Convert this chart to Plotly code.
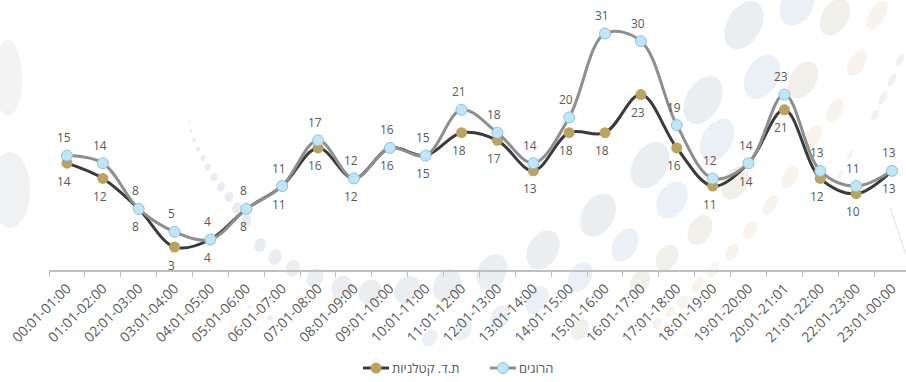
import math
import plotly.graph_objects as go

# Hourly time slots
hours = [
    "00:01-01:00", "01:01-02:00", "02:01-03:00", "03:01-04:00", "04:01-05:00",
    "05:01-06:00", "06:01-07:00", "07:01-08:00", "08:01-09:00", "09:01-10:00",
    "10:01-11:00", "11:01-12:00", "12:01-13:00", "13:01-14:00", "14:01-15:00",
    "15:01-16:00", "16:01-17:00", "17:01-18:00", "18:01-19:00", "19:01-20:00",
    "20:01-21:01", "21:01-22:00", "22:01-23:00", "23:01-00:00",
]

# Fatal accidents per time slot
fatal_accidents = [14, 12, 8, 3, 4, 8, 11, 16, 12, 16, 15, 18, 17, 13, 18, 18, 23, 16, 11, 14, 21, 12, 10, 13]
# Killed per time slot
killed = [15, 14, 8, 5, 4, 8, 11, 17, 12, 16, 15, 21, 18, 14, 20, 31, 30, 19, 12, 14, 23, 13, 11, 13]

name_accidents = "ת.ד. קטלניות"
name_killed = "הרוגים"

FONT = "Open Sans, DejaVu Sans, sans-serif"
TXT = "#595959"
GOLD = "#bba25e"
DARK_LINE = "#3a3a3a"
GRAY_LINE = "#8e8e8e"
BLUE = "#bfe6f8"
BLUE_EDGE = "#8cc3df"

W, H = 906, 382
L, R, T, B = 49, 0, 3, 112
PW, PH = W - L - R, H - T - B


def px(x):
    return (x - L) / PW


def py(y):
    return (H - B - y) / PH


def ellipse_path(cx, cy, rx, ry, angle):
    """Closed polygon path (paper coords) of an ellipse given in pixels, leaning right by `angle` degrees."""
    th = math.radians(angle)
    pts = []
    for k in range(36):
        t = 2 * math.pi * k / 36
        dx, dy = rx * math.cos(t), ry * math.sin(t)
        x = cx + dx * math.cos(th) - dy * math.sin(th)
        y = cy + dx * math.sin(th) + dy * math.cos(th)
        pts.append(f"{px(x):.5f},{py(y):.5f}")
    return "M" + " L".join(pts) + " Z"


fig = go.Figure()

fig.add_trace(go.Scatter(
    x=hours, y=fatal_accidents, name=name_accidents,
    mode="lines+markers",
    line=dict(color=DARK_LINE, width=3, shape="spline", smoothing=1),
    marker=dict(color=GOLD, size=11, line=dict(width=0)),
    cliponaxis=False, showlegend=False,
))

fig.add_trace(go.Scatter(
    x=hours, y=killed, name=name_killed,
    mode="lines+markers",
    line=dict(color=GRAY_LINE, width=3, shape="spline", smoothing=1),
    marker=dict(color=BLUE, size=11, line=dict(color=BLUE_EDGE, width=1)),
    cliponaxis=False, showlegend=False,
))

annotations = []
# Value labels: accidents below their points, killed above
for series, shift in ((fatal_accidents, -18), (killed, 18)):
    for h, v in zip(hours, series):
        annotations.append(dict(
            x=h, y=v, xref="x", yref="y", text=str(v), showarrow=False,
            xanchor="center", yanchor="middle", xshift=-3, yshift=shift,
            font=dict(family=FONT, size=12, color=TXT),
        ))

# Decorative background ellipses: (cx, cy, rx, ry, tilt, colour) in pixels
G, BL, T1, T2 = "#ebeef1", "#ebf0f7", "#f0efea", "#f8f4ed"
deco = [
    (8, 78, 14, 38, 0, "#f3f3f4"), (10, 190, 20, 38, 0, "#eff1f3"),
    # main diagonal band
    (293, 268, 7, 8.5, 20, G), (315, 278, 8, 10, 25, G), (342, 287, 10, 12, 30, G),
    (370, 292, 11, 13, 30, G), (407, 290, 12, 15, 30, G), (447, 285, 13, 17, 30, G),
    (492, 272, 14, 19, 30, G), (543, 250, 15, 21, 30, G), (598, 215, 16, 23, 30, G),
    (650, 165, 17, 25, 30, G), (703, 100, 17, 26, 30, G), (744, 25, 17, 26, 30, G),
    # bluish band
    (430, 338, 7, 9, 30, BL), (463, 330, 8, 11, 30, BL), (500, 317, 9, 13, 30, BL),
    (537, 300, 10, 15, 30, BL), (580, 277, 11, 16, 30, BL), (625, 245, 12, 18, 30, BL),
    (672, 200, 14, 20, 30, BL), (717, 140, 15, 23, 30, BL), (762, 77, 16, 24, 30, BL),
    (797, 5, 16, 22, 30, BL),
    # beige-grey band
    (580, 330, 8, 11, 30, T1), (640, 282, 9, 13, 30, T1), (667, 258, 10, 14, 30, T1),
    (700, 230, 11, 16, 30, T1), (735, 183, 12, 18, 30, T1), (803, 80, 13, 20, 30, T1),
    (835, 17, 13, 20, 30, T1),
    # pale tan band
    (657, 323, 4, 6, 30, T2), (670, 312, 4, 6, 30, T2), (683, 302, 5, 7, 30, T2),
    (698, 285, 5, 8, 30, T2), (713, 270, 5, 8, 30, T2), (732, 252, 6, 9, 30, T2),
    (750, 230, 6, 10, 30, T2), (770, 205, 6, 11, 30, T2), (790, 177, 7, 12, 30, T2),
    (813, 137, 7, 13, 30, T2), (835, 110, 7, 13, 30, T2), (857, 63, 8, 15, 30, T2),
    (877, 15, 8, 16, 30, T2),
    # faint dashes on the right
    (840, 175, 2, 5, 30, "#f1f3f5"), (850, 155, 2, 5, 30, "#f1f3f5"),
    (875, 115, 3, 6, 30, "#eef0f2"), (883, 98, 3, 7, 30, "#eef0f2"),
    (892, 80, 3, 7, 30, "#eef0f2"), (900, 60, 3, 7, 30, "#eef0f2"),
]
# small dotted arc on the left
arc = [(189, 122, 1.2), (191, 131, 1.5), (194, 140, 1.8), (198, 149, 2.1), (203, 158, 2.5),
       (208, 167, 2.9), (214, 177, 3.3), (221, 187, 3.8), (229, 197, 4.3), (237, 208, 4.6),
       (246, 221, 5.0), (260, 245, 5.6), (275, 257, 6.3)]
for (cx, cy, r) in arc:
    deco.append((cx, cy, r, r * 1.25, 20, "#e8ecf0"))
deco += [(250, 307, 2, 2, 0, "#eef1f4"), (270, 318, 3, 3, 0, "#eef1f4")]

shapes = []
for (cx, cy, rx, ry, ang, c) in deco:
    shapes.append(dict(type="path", xref="paper", yref="paper", layer="below",
                       path=ellipse_path(cx, cy, rx, ry, ang),
                       fillcolor=c, line=dict(width=0)))
shapes.append(dict(type="line", xref="paper", yref="paper", layer="below",
                   x0=px(890), y0=py(207), x1=px(906), y1=py(255),
                   line=dict(color="#e0e0e0", width=1)))

# Legend drawn right-to-left: symbol then Hebrew label
legend_y = 368
legend_items = [
    (376, DARK_LINE, GOLD, None, name_accidents),
    (503, GRAY_LINE, BLUE, BLUE_EDGE, name_killed),
]
for (mx, lc, fc, ec, label) in legend_items:
    shapes.append(dict(type="line", xref="paper", yref="paper",
                       x0=px(mx - 13), x1=px(mx + 13), y0=py(legend_y), y1=py(legend_y),
                       line=dict(color=lc, width=3)))
    shapes.append(dict(type="circle", xref="paper", yref="paper",
                       x0=px(mx - 5.5), x1=px(mx + 5.5), y0=py(legend_y + 5.5), y1=py(legend_y - 5.5),
                       fillcolor=fc, line=dict(color=ec or fc, width=1 if ec else 0)))
    annotations.append(dict(xref="paper", yref="paper", x=px(mx + 14), y=py(legend_y),
                            xanchor="left", yanchor="middle", showarrow=False, text=label,
                            font=dict(family=FONT, size=13, color=TXT)))

fig.update_layout(
    width=W, height=H,
    margin=dict(l=L, r=R, t=T, b=B),
    paper_bgcolor="white", plot_bgcolor="rgba(0,0,0,0)",
    showlegend=False,
    shapes=shapes, annotations=annotations,
    xaxis=dict(
        type="category", range=[-0.5, 23.39],
        showgrid=False, zeroline=False,
        showline=True, linecolor="#bfbfbf", linewidth=1.5,
        ticks="outside", tickson="boundaries", ticklen=5, tickcolor="#bfbfbf",
        tickangle=-45, tickfont=dict(family=FONT, size=14, color=TXT),
        ticklabelstandoff=3,
    ),
    yaxis=dict(range=[0, 35], visible=False, showgrid=False, zeroline=False),
)

fig.write_html("out.html")
